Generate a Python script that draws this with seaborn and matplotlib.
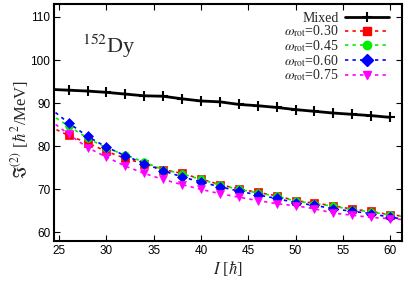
import matplotlib
matplotlib.use("Agg")
import matplotlib.pyplot as plt
from matplotlib.lines import Line2D
import seaborn as sns
import numpy as np

# spin values (line data extends past the frame, markers only 26..60)
spin = [24, 26, 28, 30, 32, 34, 36, 38, 40, 42, 44, 46, 48, 50, 52, 54, 56, 58, 60, 62]
spin_mixed = [24, 26, 28, 30, 32, 34, 36, 38, 40, 42, 44, 46, 48, 50, 52, 54, 56, 58, 60]

mixed = [93.2, 93.0, 92.8, 92.5, 92.1, 91.7, 91.6, 91.0, 90.5, 90.3, 89.7,
         89.4, 89.0, 88.5, 88.1, 87.7, 87.4, 87.1, 86.7]
w030 = [84.6, 82.5, 80.8, 78.8, 77.2, 75.9, 74.6, 73.7, 72.4, 71.1, 70.1,
        69.3, 68.5, 67.4, 66.8, 66.2, 65.4, 64.9, 64.1, 63.7]
w045 = [87.5, 84.7, 81.9, 79.6, 78.0, 76.3, 74.6, 73.6, 72.3, 71.0, 70.0,
        69.2, 68.4, 67.3, 66.7, 66.1, 65.3, 64.8, 64.0, 63.6]
w060 = [88.9, 85.4, 82.3, 79.8, 77.8, 76.0, 74.3, 72.9, 71.7, 70.6, 69.6,
        68.7, 67.9, 66.9, 66.3, 65.5, 64.9, 64.4, 63.5, 63.0]
w075 = [86.1, 82.8, 79.7, 77.5, 75.4, 73.7, 72.3, 71.1, 70.0, 69.0, 68.2,
        67.4, 66.7, 66.2, 65.5, 64.5, 64.0, 63.5, 63.2, 62.9]

labels = ["Mixed", r"$\omega_{\rm rot}$=0.30", r"$\omega_{\rm rot}$=0.45",
          r"$\omega_{\rm rot}$=0.60", r"$\omega_{\rm rot}$=0.75"]

sns.set_style("ticks")
plt.rcParams["mathtext.fontset"] = "stix"
plt.rcParams["font.family"] = ["Liberation Sans", "DejaVu Sans"]

fig = plt.figure(figsize=(4.09, 2.83), dpi=100)
ax = fig.add_axes([0.133, 0.148, 0.851, 0.838])

sns.lineplot(x=spin_mixed, y=mixed, ax=ax, color="black", lw=2, marker="+",
             ms=7, mew=1.5, mec="black",
             markevery=list(range(1, len(spin_mixed))), sort=False)

styles = [("#ff0000", "s"), ("#00ee00", "o"), ("#0000ff", "D"), ("#ff00ff", "v")]
for vals, (c, m) in zip([w030, w045, w060, w075], styles):
    sns.lineplot(x=spin, y=vals, ax=ax, color=c, lw=1.2, ls=(0, (2, 2.5)),
                 marker=m, ms=5.5 if m != "D" else 5, mec=c, mfc=c, mew=0.5,
                 markevery=list(range(1, len(spin) - 1)), sort=False)

ax.set_xlim(24.5, 61.3)
ax.set_ylim(58, 113)
ax.set_xticks(np.arange(25, 61, 5))
ax.set_yticks(np.arange(60, 111, 10))
ax.tick_params(direction="in", length=4, width=0.8, top=True, right=True,
               labelsize=8.5, pad=3, colors="black")
for s in ax.spines.values():
    s.set_linewidth(1.5)
    s.set_color("black")

ax.set_xlabel(r"$I$ [$\hbar$]", fontsize=12, family="Liberation Serif", labelpad=1)
ax.set_ylabel(r"$\Im^{(2)}$ [$\hbar^2$/MeV]", fontsize=12,
              family="Liberation Serif")
ax.yaxis.set_label_coords(-0.066, 0.47)

ax.text(27.4, 101.6, r"$^{152}$Dy", fontsize=16, family="Liberation Serif")

handles = [Line2D([], [], color="black", lw=2, marker="+", ms=7, mew=1.5)]
for c, m in styles:
    handles.append(Line2D([], [], color=c, lw=1.2, ls=(0, (2, 2.5)), marker=m,
                          ms=6, mec=c, mfc=c))
# markerfirst=False right-aligns rows, like gnuplot's key
ax.legend(handles, labels, loc="upper right", bbox_to_anchor=(0.96, 0.968),
          frameon=False, markerfirst=False, handlelength=3.1,
          handletextpad=0.5, labelspacing=-0.08, borderaxespad=0.0,
          borderpad=0.0, prop={"family": "Liberation Serif", "size": 10})

fig.savefig("out.png", dpi=100)
